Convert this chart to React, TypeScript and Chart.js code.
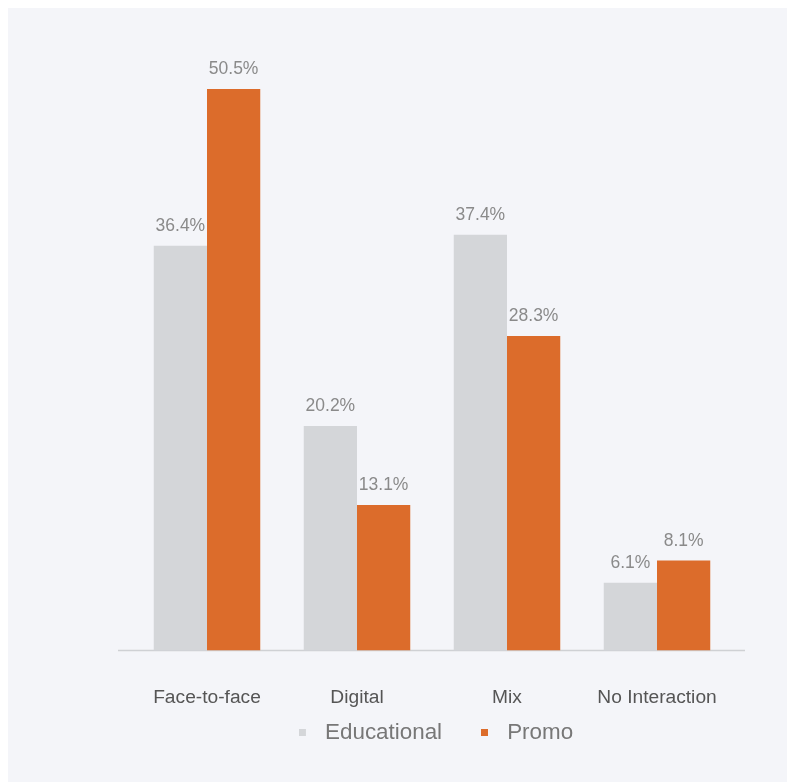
import React, { useEffect, useRef } from "react";
import { Chart, registerables } from "chart.js";

Chart.register(...registerables);

const categories = ["Face-to-face", "Digital", "Mix", "No Interaction"];
const seriesNames = ["Educational", "Promo"];
const educational = [36.4, 20.2, 37.4, 6.1];
const promo = [50.5, 13.1, 28.3, 8.1];
const seriesColors = ["#d4d6d9", "#dc6c2b"];

const FONT = "'Liberation Sans', Arial, Helvetica, sans-serif";

function makeMarker(color: string) {
  const c = document.createElement("canvas");
  c.width = 15;
  c.height = 7;
  const ctx = c.getContext("2d")!;
  ctx.fillStyle = color;
  ctx.fillRect(0, 0, 7, 7);
  return c;
}

const customPlugin = {
  id: "customDecor",
  afterLayout(chart: any) {
    if (chart.legend) {
      chart.legend.left += 4;
      chart.legend.right += 4;
    }
  },
  beforeDatasetsDraw(chart: any) {
    const ctx = chart.ctx;
    const area = chart.chartArea;
    const y0 = chart.scales.y.getPixelForValue(0);
    ctx.save();
    ctx.strokeStyle = "#cfd1d4";
    ctx.lineWidth = 1.5;
    ctx.beginPath();
    ctx.moveTo(area.left - 14, y0);
    ctx.lineTo(area.right + 13, y0);
    ctx.stroke();
    ctx.restore();
  },
  afterDatasetsDraw(chart: any) {
    const ctx = chart.ctx;
    ctx.save();
    ctx.font = `17.5px ${FONT}`;
    ctx.fillStyle = "#8a8a8a";
    ctx.textAlign = "center";
    ctx.textBaseline = "alphabetic";
    chart.data.datasets.forEach((ds: any, i: number) => {
      const meta = chart.getDatasetMeta(i);
      meta.data.forEach((bar: any, j: number) => {
        ctx.fillText(`${Number(ds.data[j]).toFixed(1)}%`, bar.x, bar.y - 15);
      });
    });
    ctx.restore();
  },
};

export default function App() {
  const ref = useRef<HTMLCanvasElement | null>(null);

  useEffect(() => {
    if (!ref.current) return;
    const markers = seriesColors.map(makeMarker);
    const chart = new Chart(ref.current, {
      type: "bar",
      data: {
        labels: categories,
        datasets: [
          {
            label: seriesNames[0],
            data: educational,
            backgroundColor: seriesColors[0],
            borderWidth: 0,
          },
          {
            label: seriesNames[1],
            data: promo,
            backgroundColor: seriesColors[1],
            borderWidth: 0,
          },
        ],
      },
      options: {
        animation: false,
        responsive: false,
        maintainAspectRatio: false,
        datasets: {
          bar: { categoryPercentage: 0.71, barPercentage: 1 },
        },
        layout: { padding: { top: 31, left: 124, right: 63, bottom: 29 } },
        scales: {
          x: {
            grid: { display: false },
            border: { display: false },
            afterFit: (s: any) => {
              s.height = 57;
            },
            ticks: {
              padding: 28,
              maxRotation: 0,
              color: "#555555",
              font: { family: FONT, size: 19.2 },
            },
          },
          y: {
            display: false,
            min: 0,
            max: 55,
          },
        },
        plugins: {
          tooltip: { enabled: false },
          legend: {
            position: "bottom",
            labels: {
              usePointStyle: true,
              pointStyleWidth: 15,
              boxHeight: 7,
              padding: 14,
              color: "#777777",
              font: { family: FONT, size: 22.4 },
              generateLabels: (c: any) => {
                const items = (Chart.defaults.plugins.legend.labels as any).generateLabels(c);
                items.forEach((it: any, i: number) => {
                  it.pointStyle = markers[i];
                  if (i < items.length - 1) it.text = it.text + "    ";
                });
                return items;
              },
            },
          },
        },
      },
      plugins: [customPlugin],
    });
    return () => chart.destroy();
  }, []);

  return (
    <div style={{ width: 787, height: 775, background: "#f4f5f9", overflow: "hidden" }}>
      <canvas ref={ref} width={787} height={775} style={{ display: "block", width: 787, height: 775 }} />
    </div>
  );
}
